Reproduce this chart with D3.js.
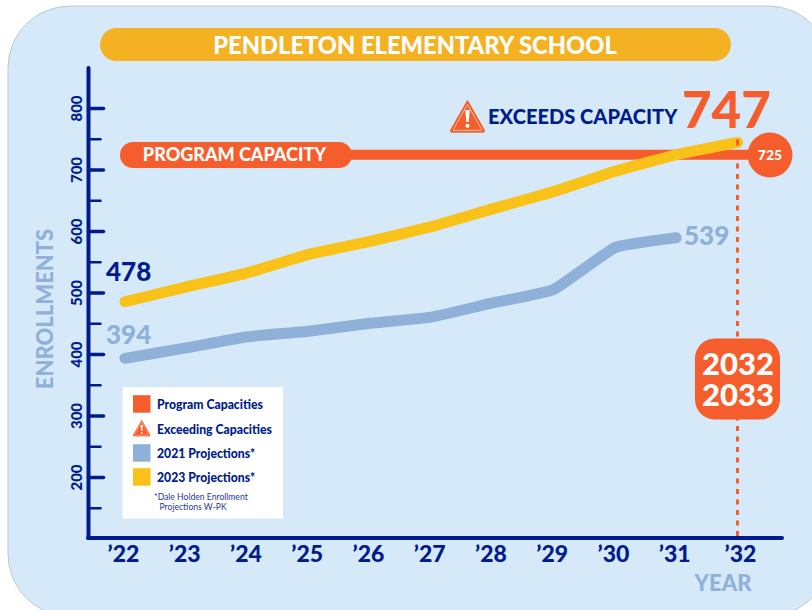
<!DOCTYPE html>
<html>
<head>
<meta charset="utf-8">
<script src="https://cdn.jsdelivr.net/npm/d3@7/dist/d3.min.js"></script>
<style>
html,body{margin:0;padding:0;background:#fff;}
svg{display:block;}
text{font-family:Lato,"Open Sans",sans-serif;font-weight:900;}
</style>
</head>
<body>
<svg id="c" width="812" height="610"></svg>
<script>
const years = [2022,2023,2024,2025,2026,2027,2028,2029,2030,2031,2032];
const yearLabels = ["\u201922","\u201923","\u201924","\u201925","\u201926","\u201927","\u201928","\u201929","\u201930","\u201931","\u201932"];
const projections2023 = [485,509,532,562,583,607,636,664,697,724,744];
const years2021 = [2022,2023,2024,2025,2026,2027,2028,2029,2030,2031];
const projections2021 = [393,410,428,437,450,460,483,505,573,589];
const programCapacity = 724;
const majorTicks = [200,300,400,500,600,700,800];
const minorTicks = [150,250,350,450,550,650,750];
const legendLabels = ["Program Capacities","Exceeding Capacities","2021 Projections*","2023 Projections*"];

const ORANGE="#f55d2c", NAVY="#001c8c", YELLOW="#f8c218", BLUE="#8fb1d9", GOLD="#f4b223";
const svg=d3.select("#c");
const x=d3.scaleLinear().domain([2022,2032]).range([125,737.5]);
const y=d3.scaleLinear().domain([100,800]).range([538.5,108]);

svg.append("rect").attr("x",8).attr("y",6).attr("width",822).attr("height",610).attr("rx",62)
  .attr("fill","#d5e9f8").attr("stroke","#bcc8d0").attr("stroke-width",1);

// title
svg.append("rect").attr("x",100).attr("y",28).attr("width",631).attr("height",33).attr("rx",16.5).attr("fill",GOLD);
svg.append("text").attr("x",415).attr("y",53.5).attr("text-anchor","middle").attr("font-size",23.7).attr("fill","#fff").text("PENDLETON ELEMENTARY SCHOOL");

// axes
function styleAxis(g,w){ g.select(".domain").remove(); g.selectAll("line").attr("stroke",NAVY).attr("stroke-width",w).attr("stroke-linecap","round"); }
const yMinor=svg.append("g").attr("transform","translate(88.5,0)")
  .call(d3.axisRight(y).tickValues(minorTicks).tickSize(12).tickFormat(""));
styleAxis(yMinor,2.5);
const yMajor=svg.append("g").attr("transform","translate(88.5,0)")
  .call(d3.axisLeft(y).tickValues(majorTicks).tickSize(-15).tickPadding(0));
styleAxis(yMajor,3.5);
yMajor.selectAll("text").attr("fill",NAVY).attr("font-size",15).attr("text-anchor","middle")
  .attr("dy",0).attr("x",0).attr("y",0)
  .attr("transform","translate(-6.5,0) rotate(-90)")
  .style("font-family","Lato").style("font-weight",900);

svg.append("line").attr("x1",88.5).attr("x2",88.5).attr("y1",y(865)).attr("y2",538)
  .attr("stroke",NAVY).attr("stroke-width",4).attr("stroke-linecap","round");

const xAxis=svg.append("g").attr("transform","translate(0,538)")
  .call(d3.axisBottom(x).tickValues(years).tickSize(0).tickPadding(0).tickFormat((d,i)=>yearLabels[i]));
xAxis.select(".domain").remove();
xAxis.selectAll("text").attr("fill",NAVY).attr("font-size",23).attr("dy",0).attr("y",24)
  .attr("dx",d=>d===2032?2.5:-2)
  .style("font-family","Lato").style("font-weight",900);
svg.append("line").attr("x1",88).attr("x2",782).attr("y1",538).attr("y2",538)
  .attr("stroke",NAVY).attr("stroke-width",4).attr("stroke-linecap","round");

// axis titles
svg.append("text").attr("transform","translate(53,309) rotate(-90)").attr("text-anchor","middle").attr("font-size",22).attr("fill",BLUE).text("ENROLLMENTS");
svg.append("text").attr("x",723).attr("y",591).attr("text-anchor","middle").attr("font-size",22).attr("fill",BLUE).text("YEAR");

// dashed guide
svg.append("line").attr("x1",x(2032)).attr("x2",x(2032)).attr("y1",y(744)).attr("y2",536)
  .attr("stroke",ORANGE).attr("stroke-width",3).attr("stroke-dasharray","5 5.5");

// capacity
svg.append("line").attr("x1",340).attr("x2",770).attr("y1",y(programCapacity)).attr("y2",y(programCapacity))
  .attr("stroke",ORANGE).attr("stroke-width",10);
svg.append("rect").attr("x",120).attr("y",142).attr("width",232).attr("height",26).attr("rx",13).attr("fill",ORANGE);
svg.append("text").attr("x",234.5).attr("y",161).attr("text-anchor","middle").attr("font-size",18).attr("fill","#fff").text("PROGRAM CAPACITY");
svg.append("circle").attr("cx",770).attr("cy",155).attr("r",22.5).attr("fill",ORANGE);
svg.append("text").attr("x",770).attr("y",160).attr("text-anchor","middle").attr("font-size",14).attr("fill","#fff").text("725");

// lines
const line=d3.line().curve(d3.curveCardinal.tension(0.65));
svg.append("path").attr("d",line(years2021.map((d,i)=>[x(d),y(projections2021[i])])))
  .attr("fill","none").attr("stroke",BLUE).attr("stroke-width",11).attr("stroke-linecap","round").attr("stroke-linejoin","round");
svg.append("path").attr("d",line(years.map((d,i)=>[x(d),y(projections2023[i])])))
  .attr("fill","none").attr("stroke",YELLOW).attr("stroke-width",11).attr("stroke-linecap","round").attr("stroke-linejoin","round");
svg.append("line").attr("x1",x(2032)).attr("x2",x(2032)).attr("y1",y(744)-3).attr("y2",y(744)+3)
  .attr("stroke",ORANGE).attr("stroke-width",3);

// value labels
svg.append("text").attr("x",106).attr("y",281).attr("font-size",26).attr("fill",NAVY).text("478");
svg.append("text").attr("x",106).attr("y",344).attr("font-size",26).attr("fill",BLUE).text("394");
svg.append("text").attr("x",684).attr("y",245).attr("font-size",26).attr("fill",BLUE).text("539");

// warning icon
function warn(parent,cx,top,w){
  const s=w/35;
  const g=parent.append("g").attr("transform",`translate(${cx},${top}) scale(${s})`);
  g.append("path").attr("d","M0,1 L16.5,30 Q17.5,32 15,32 L-15,32 Q-17.5,32 -16.5,30 Z")
    .attr("fill",ORANGE).attr("stroke",ORANGE).attr("stroke-width",1.5).attr("stroke-linejoin","round");
  g.append("path").attr("d","M0,4.5 L14.2,29.5 Q14.8,30.4 13.6,30.4 L-13.6,30.4 Q-14.8,30.4 -14.2,29.5 Z")
    .attr("fill","none").attr("stroke","#ffc9b3").attr("stroke-width",0.9);
  g.append("path").attr("d","M-2.2,10 L2.2,10 L1.2,22 L-1.2,22 Z").attr("fill","#fff");
  g.append("circle").attr("cx",0).attr("cy",25.8).attr("r",2).attr("fill","#fff");
}
warn(svg,467.5,100,35);
svg.append("text").attr("x",488).attr("y",124).attr("font-size",20.1).attr("fill",NAVY).text("EXCEEDS CAPACITY");
svg.append("text").attr("x",682).attr("y",128).attr("font-size",51).attr("fill",ORANGE).text("747");

// year badge
svg.append("rect").attr("x",695).attr("y",338.5).attr("width",85).attr("height",81).attr("rx",20).attr("fill",ORANGE);
const badge=svg.append("text").attr("text-anchor","middle").attr("font-size",31).attr("fill","#fff");
badge.append("tspan").attr("x",738).attr("y",374.5).text("2032");
badge.append("tspan").attr("x",738).attr("y",406).text("2033");

// legend
const lg=svg.append("g");
lg.append("rect").attr("x",122.5).attr("y",387).attr("width",160.5).attr("height",131.5).attr("fill","#fff");
const rowY=[404,429,453,477];
const swatch=[ORANGE,null,BLUE,YELLOW];
legendLabels.forEach((t,i)=>{
  if(swatch[i]) lg.append("rect").attr("x",133).attr("y",rowY[i]-8.8).attr("width",17.5).attr("height",17.5).attr("fill",swatch[i]);
  else warn(lg,141.7,420,17.5);
  lg.append("text").attr("x",157).attr("y",rowY[i]+4.8).attr("font-size",12.2).attr("fill",NAVY).text(t);
});
const foot=lg.append("text").attr("font-size",8.6).attr("fill","#2438a0").style("font-weight",400);
foot.append("tspan").attr("x",154).attr("y",500).text("*Dale Holden Enrollment");
foot.append("tspan").attr("x",159.5).attr("y",510).text("Projections W-PK");
</script>
</body>
</html>
